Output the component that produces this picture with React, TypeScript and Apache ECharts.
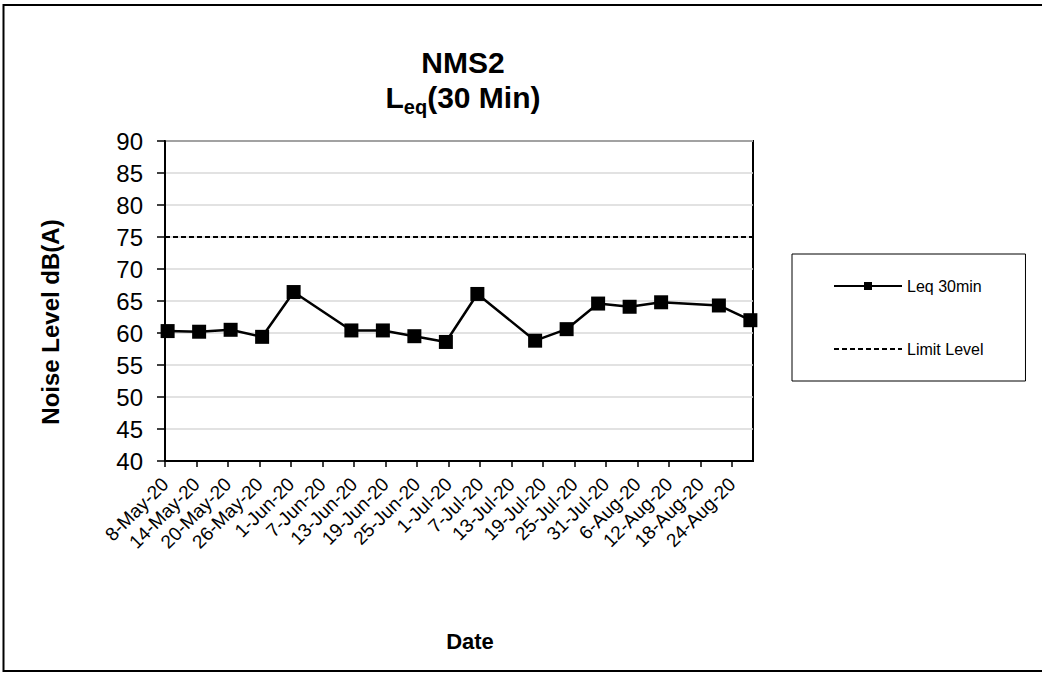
import React, { useEffect, useRef } from "react";
import * as echarts from "echarts";

const FONT = "'Liberation Sans', Arial, Helvetica, sans-serif";

// Measurement dates (readings taken around midday) and Leq values, dB(A)
const readingDates = [
  "2020-05-08T12:00Z",
  "2020-05-14T12:00Z",
  "2020-05-20T12:00Z",
  "2020-05-26T12:00Z",
  "2020-06-01T12:00Z",
  "2020-06-12T12:00Z",
  "2020-06-18T12:00Z",
  "2020-06-24T12:00Z",
  "2020-06-30T12:00Z",
  "2020-07-06T12:00Z",
  "2020-07-17T12:00Z",
  "2020-07-23T12:00Z",
  "2020-07-29T12:00Z",
  "2020-08-04T12:00Z",
  "2020-08-10T12:00Z",
  "2020-08-21T12:00Z",
  "2020-08-27T12:00Z",
];
const leqValues = [60.3, 60.2, 60.5, 59.4, 66.4, 60.4, 60.4, 59.5, 58.6, 66.1, 58.8, 60.6, 64.6, 64.1, 64.8, 64.3, 62.0];
const limitLevel = 75;

const seriesNames = ["Leq 30min", "Limit Level"];

// X axis: date range and tick labels
const xAxisStart = "2020-05-08T00:00Z";
const xAxisEnd = "2020-08-28T00:00Z";
const xTickLabels = [
  "8-May-20", "14-May-20", "20-May-20", "26-May-20", "1-Jun-20", "7-Jun-20",
  "13-Jun-20", "19-Jun-20", "25-Jun-20", "1-Jul-20", "7-Jul-20", "13-Jul-20",
  "19-Jul-20", "25-Jul-20", "31-Jul-20", "6-Aug-20", "12-Aug-20", "18-Aug-20", "24-Aug-20",
];
const xTickStepDays = 6;

// Y axis
const yMin = 40;
const yMax = 90;
const yStep = 5;

const monthNames = ["Jan", "Feb", "Mar", "Apr", "May", "Jun", "Jul", "Aug", "Sep", "Oct", "Nov", "Dec"];

const DAY = 86400000;
const ts = (s: string) => new Date(s).getTime();
const parseTickLabel = (s: string) => {
  const [d, m, y] = s.split("-");
  return Date.UTC(2000 + Number(y), monthNames.indexOf(m), Number(d));
};

export default function App() {
  const ref = useRef<HTMLDivElement>(null);

  useEffect(() => {
    if (!ref.current) return;
    const chart = echarts.init(ref.current, undefined, { renderer: "svg" });

    const xMin = ts(xAxisStart);
    const xMax = ts(xAxisEnd);
    const tickValues = xTickLabels.map(parseTickLabel);
    const labelFor = (v: number) => {
      const i = tickValues.findIndex((t) => Math.abs(t - v) < 1000);
      return i >= 0 ? xTickLabels[i] : "";
    };

    chart.setOption({
      animation: false,
      backgroundColor: "#ffffff",
      textStyle: { fontFamily: FONT, color: "#000" },
      title: {
        text: "{a|NMS2}\n{a|L}{b|eq}{a|(30 Min)}",
        left: 463,
        top: 47,
        padding: 0,
        textAlign: "center",
        textStyle: {
          fontFamily: FONT,
          color: "#000",
          rich: {
            a: { fontFamily: FONT, fontSize: 30, fontWeight: "bold", color: "#000", lineHeight: 35, verticalAlign: "top" },
            b: { fontFamily: FONT, fontSize: 20, fontWeight: "bold", color: "#000", lineHeight: 20, padding: [19, 0, 0, 0], verticalAlign: "bottom" },
          },
        },
      },
      legend: {
        orient: "vertical",
        left: 792,
        top: 254,
        padding: [24, 42, 24, 41],
        itemGap: 47,
        itemWidth: 68,
        itemHeight: 10,
        borderColor: "#000",
        borderWidth: 1,
        backgroundColor: "#fff",
        data: [
          { name: seriesNames[0] },
          { name: seriesNames[1], itemStyle: { opacity: 0 } },
        ],
        textStyle: { fontFamily: FONT, fontSize: 16, color: "#000" },
      },
      grid: {
        left: 165,
        right: 289,
        top: 141,
        bottom: 212,
        show: true,
        borderColor: "#000",
        borderWidth: 2,
        backgroundColor: "#fff",
      },
      xAxis: {
        type: "value",
        min: xMin,
        max: xMax,
        interval: xTickStepDays * DAY,
        axisLine: { show: true, onZero: false, lineStyle: { color: "#000", width: 2 } },
        axisTick: { show: true, length: 6, lineStyle: { color: "#000", width: 1.5 }, customValues: tickValues },
        axisLabel: {
          rotate: 45,
          fontSize: 19,
          color: "#000",
          fontFamily: FONT,
          margin: 20,
          customValues: tickValues,
          formatter: (v: number) => labelFor(v),
        },
        splitLine: { show: false },
      },
      yAxis: {
        type: "value",
        min: yMin,
        max: yMax,
        interval: yStep,
        axisLine: { show: true, lineStyle: { color: "#000", width: 2 } },
        axisTick: { show: true, length: 8, lineStyle: { color: "#000", width: 1.5 } },
        axisLabel: { fontSize: 24, color: "#000", fontFamily: FONT, margin: 22 },
        splitLine: { show: true, lineStyle: { color: "#d9d9d9", width: 1.5 } },
      },
      graphic: [
        {
          type: "rect",
          shape: { x: 3.5, y: 5, width: 1060, height: 666 },
          style: { fill: "none", stroke: "#000", lineWidth: 2 },
          silent: true,
          z: 100,
        },
        {
          type: "text",
          x: 50,
          y: 322,
          rotation: Math.PI / 2,
          style: {
            text: "Noise Level dB(A)",
            fontFamily: FONT,
            fontSize: 24,
            fontWeight: "bold",
            fill: "#000",
            align: "center",
            verticalAlign: "middle",
          },
        },
        {
          type: "text",
          x: 470,
          y: 641,
          style: {
            text: "Date",
            fontFamily: FONT,
            fontSize: 22,
            fontWeight: "bold",
            fill: "#000",
            align: "center",
            verticalAlign: "middle",
          },
        },
      ],
      series: [
        {
          name: seriesNames[0],
          type: "line",
          data: readingDates.map((d, i) => [ts(d), leqValues[i]]),
          symbol: "rect",
          symbolSize: 14,
          lineStyle: { color: "#000", width: 2.5 },
          itemStyle: { color: "#000" },
          z: 4,
        },
        {
          name: seriesNames[1],
          type: "line",
          data: [
            [xMin, limitLevel],
            [xMax, limitLevel],
          ],
          symbol: "none",
          lineStyle: { color: "#000", width: 2, type: [5, 3] },
          itemStyle: { color: "#000" },
          z: 3,
        },
      ],
    });

    return () => chart.dispose();
  }, []);

  return (
    <div
      ref={ref}
      style={{ position: "fixed", left: 0, top: 0, width: 1042, height: 673, background: "#fff" }}
    />
  );
}
